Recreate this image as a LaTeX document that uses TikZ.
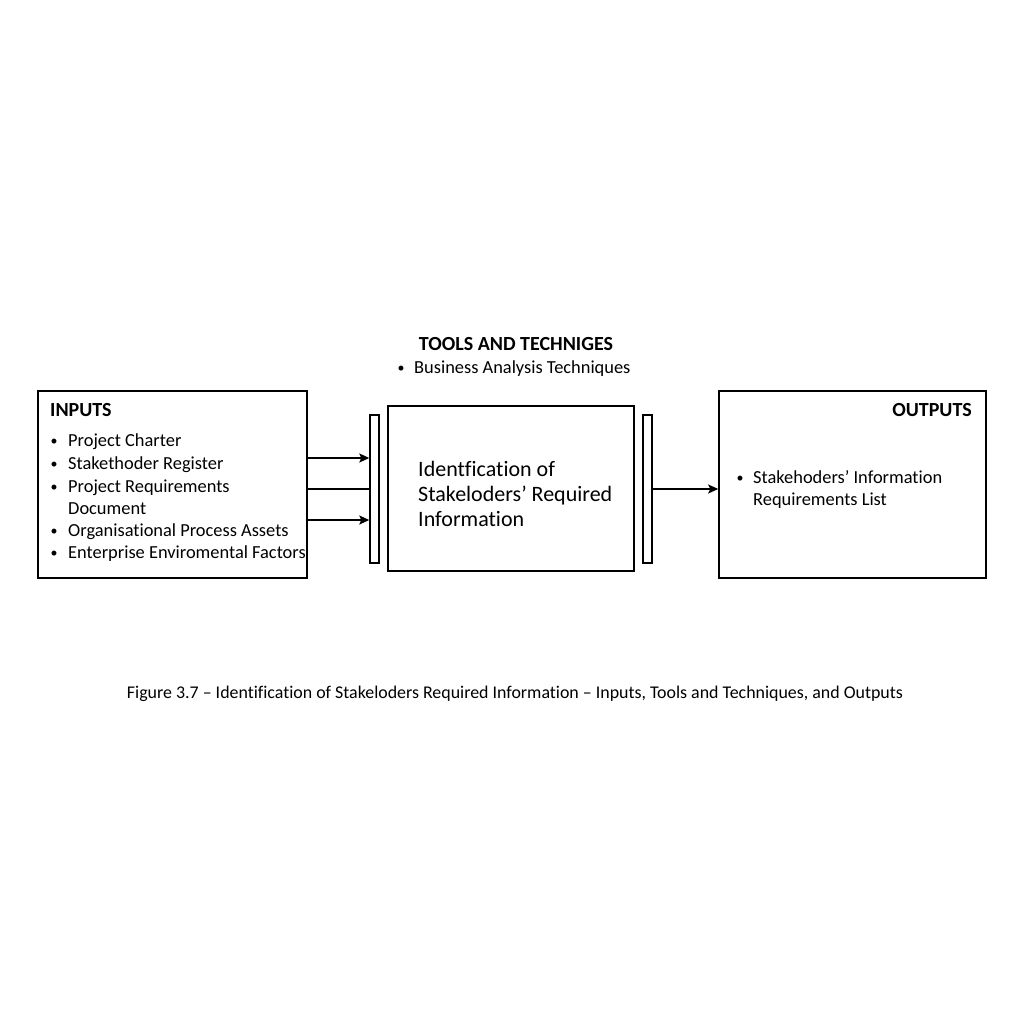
\documentclass[tikz,border=0pt]{standalone}
\usepackage{fontspec}
\setmainfont[Ligatures=NoCommon]{Carlito}
\usetikzlibrary{arrows.meta}
\begin{document}
\begin{tikzpicture}[x=1pt,y=-1pt,
  box/.style={draw,line width=1.6pt,inner sep=0pt},
  bar/.style={draw,line width=1.4pt,inner sep=0pt,minimum width=9pt,minimum height=148pt},
  txt/.style={anchor=base west,inner sep=0pt,font=\fontsize{18.4}{22}\selectfont},
  bul/.style={anchor=base,inner sep=0pt,font=\fontsize{14}{20}\selectfont},
  head/.style={inner sep=0pt,font=\fontsize{20}{23}\selectfont\bfseries},
  arr/.style={line width=1.5pt,-{Stealth[length=10pt,width=9pt,inset=2pt]}},
  ln/.style={line width=1.5pt}]
\useasboundingbox (0,0) rectangle (1024,1024);
% boxes
\node[box,minimum width=269pt,minimum height=187pt] (in) at (172.5,484.5) {};
\node[bar] (lbar) at (374.5,489) {};
\node[box,minimum width=246pt,minimum height=165pt] (proc) at (511,488.5) {};
\node[bar] (rbar) at (647.5,489) {};
\node[box,minimum width=267pt,minimum height=187pt] (out) at (852.5,484.5) {};
% inputs text
\node[head,anchor=base west] (inh) at (50,416) {INPUTS};
\node[bul] (b1) at (54,445) {\textbullet};
\node[txt] (i1) at (68,446) {Project Charter};
\node[bul] (b2) at (54,468) {\textbullet};
\node[txt] (i2) at (68,469) {Stakethoder Register};
\node[bul] (b3) at (54,491) {\textbullet};
\node[txt] (i3) at (68,492) {Project Requirements};
\node[txt] (i3b) at (68,514) {Document};
\node[bul] (b4) at (54,535) {\textbullet};
\node[txt] (i4) at (68,536) {Organisational Process Assets};
\node[bul] (b5) at (54,557) {\textbullet};
\node[txt] (i5) at (68,558) {Enterprise Enviromental Factors};
% tools
\node[head,anchor=base] (th) at (516,350) {TOOLS AND TECHNIGES};
\node[bul] (tb) at (401,372) {\textbullet};
\node[txt] (t1) at (414,373) {Business Analysis Techniques};
% process text
\node[anchor=base west,inner sep=0pt,font=\fontsize{22}{25}\selectfont] (p1) at (418,476) {Identfication of};
\node[anchor=base west,inner sep=0pt,font=\fontsize{22}{25}\selectfont] (p2) at (418,501) {Stakeloders’ Required};
\node[anchor=base west,inner sep=0pt,font=\fontsize{22}{25}\selectfont] (p3) at (418,526) {Information};
% outputs text
\node[head,anchor=base east] (oh) at (972,416) {OUTPUTS};
\node[bul] (ob) at (740,482) {\textbullet};
\node[txt] (o1) at (753,483) {Stakehoders’ Information};
\node[txt] (o2) at (753,505) {Requirements List};
% connectors
\draw[arr] ([yshift=31pt]in.east |- lbar.west) -- ([yshift=31pt]lbar.west);
\draw[ln] (in.east |- lbar.west) -- (lbar.west);
\draw[arr] ([yshift=-31pt]in.east |- lbar.west) -- ([yshift=-31pt]lbar.west);
\draw[arr] (rbar.east) -- (rbar.east -| out.west);
% caption
\node[anchor=base,inner sep=0pt,font=\fontsize{17.9}{21}\selectfont] (cap) at (515,698) {Figure 3.7 – Identification of Stakeloders Required Information – Inputs, Tools and Techniques, and Outputs};
\end{tikzpicture}
\end{document}
